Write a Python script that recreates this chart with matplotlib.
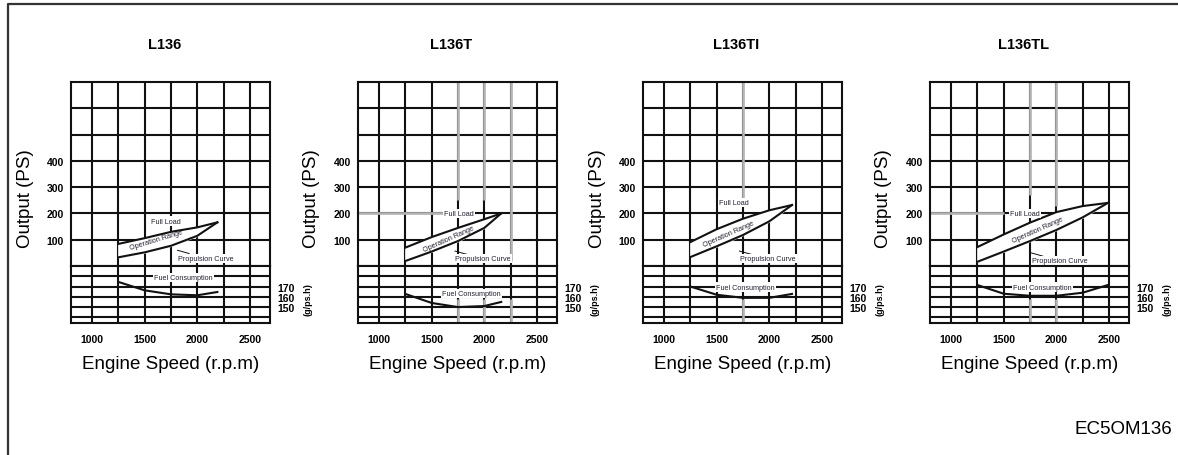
import matplotlib
matplotlib.use("Agg")
import matplotlib.pyplot as plt
from matplotlib.lines import Line2D

W, H = 1178, 456

titles = ["L136", "L136T", "L136TI", "L136TL"]

# output (PS) along full load and propulsion curves, fuel consumption (g/ps.h)
l136_rpm = [1250, 1500, 1750, 2000, 2190]
l136_full = [84, 106, 130, 147, 166]
l136_prop = [33, 52, 77, 115, 166]
l136_fuel = [174.5, 166.3, 162.4, 161.5, 164.7]

l136t_rpm = [1250, 1500, 1750, 2000, 2160]
l136t_full = [70, 110, 145, 178, 200]
l136t_prop = [19, 55, 95, 145, 200]
l136t_fuel = [162.8, 154, 150, 151, 155]

l136ti_rpm = [1250, 1500, 1750, 2000, 2215]
l136ti_full = [91, 140, 180, 212, 232]
l136ti_prop = [34, 75, 118, 170, 232]
l136ti_fuel = [170, 162, 159, 159, 162.8]

l136tl_rpm = [1250, 1500, 1750, 2000, 2250, 2490]
l136tl_full = [72, 120, 165, 205, 228, 240]
l136tl_prop = [16, 55, 95, 137, 185, 240]
l136tl_fuel = [171.5, 163, 161, 161, 164, 171.5]

rpms = [l136_rpm, l136t_rpm, l136ti_rpm, l136tl_rpm]
fulls = [l136_full, l136t_full, l136ti_full, l136tl_full]
props = [l136_prop, l136t_prop, l136ti_prop, l136tl_prop]
fuels = [l136_fuel, l136t_fuel, l136ti_fuel, l136tl_fuel]

x_ticks = [1000, 1500, 2000, 2500]
out_ticks = [100, 200, 300, 400]
fuel_ticks = [170, 160, 150]

# label anchor points: (rpm, value, angle)
full_lbl = [(1700, 171), (1760, 201), (1660, 240), (1700, 200)]
range_lbl = [(1606, 99, 17), (1665, 106, 24), (1615, 125, 24), (1820, 140, 24)]
prop_lbl = [(2080, 30), (1990, 27), (1985, 27), (2030, 20)]
fuel_lbl = [(1870, 179), (1880, 163), (1770, 169.5), (1870, 169.5)]

# greyed grid segments per panel: (rpm, from PS)
grey_v = [[], [(1750, 250), (2000, 250), (2250, 20)], [(1750, 258)],
          [(1750, 270), (2000, 230)]]
grey_h = [None, 1700, None, 1500]

lefts = [71, 358, 643, 930]

plt.rcParams['font.family'] = ['Liberation Sans', 'DejaVu Sans']

fig = plt.figure(figsize=(W / 100, H / 100), dpi=100)


def box(left, top, width, height):
    return [left / W, 1 - (top + height) / H, width / W, height / H]


lw = 1.5
ink = '#111111'
small = dict(fontsize=5.2, color='#222233', ha='center', va='center')
white = dict(boxstyle='square,pad=0.15', fc='white', ec='none')

for i in range(4):
    L = lefts[i]
    up = fig.add_axes(box(L, 83, 199, 184))
    lo = fig.add_axes(box(L, 267, 199, 57), sharex=up)

    up.set_ylim(0, 700)
    lo.set_ylim(134.5, 190)
    up.set_xlim(800, 2690)

    for ax in (up, lo):
        ax.set_xticks(x_ticks)
        ax.set_xticks([1250, 1750, 2250], minor=True)
        ax.grid(which='both', color=ink, lw=lw)
        ax.set_axisbelow(True)
        ax.tick_params(which='both', length=0)
        for s in ax.spines.values():
            s.set_linewidth(lw)
            s.set_color(ink)

    up.set_yticks(out_ticks)
    up.set_yticks([500, 600], minor=True)
    up.tick_params(axis='x', labelbottom=False)
    up.tick_params(axis='y', pad=5)
    for t in up.get_yticklabels():
        t.set_fontsize(7.5)
        t.set_fontweight('bold')

    lo.set_yticks(fuel_ticks)
    lo.set_yticks([140, 180], minor=True)
    lo.yaxis.tick_right()
    lo.tick_params(axis='y', pad=5)
    lo.tick_params(axis='x', pad=8)
    for t in lo.get_yticklabels() + lo.get_xticklabels():
        t.set_fontsize(7.5)
        t.set_fontweight('bold')

    r = rpms[i]
    # operating range between propulsion curve and full load curve
    up.fill_between(r, props[i], fulls[i], color='white', zorder=1)
    up.plot(r, fulls[i], color=ink, lw=1.5, zorder=3)
    up.plot(r, props[i], color=ink, lw=1.5, zorder=3)
    lo.plot(r, fuels[i], color=ink, lw=1.5, zorder=3)

    for gx, gy in grey_v[i]:
        up.vlines(gx, gy, 700, color='#b4b4b4', lw=1.9, zorder=1.5)
        lo.vlines(gx, 134.5, 158, color='#b4b4b4', lw=1.9, zorder=1.5)
    if grey_h[i]:
        up.hlines(200, 800, grey_h[i], color='#b4b4b4', lw=1.9, zorder=1.5)

    up.text(full_lbl[i][0], full_lbl[i][1], 'Full Load', bbox=white, zorder=4, **small)
    rx, ry, ang = range_lbl[i]
    up.text(rx, ry, 'Operation Range', rotation=ang, zorder=4, **small)
    px, py = prop_lbl[i]
    up.annotate('Propulsion Curve', xy=(px - 270, py + 30), xytext=(px, py),
                arrowprops=dict(arrowstyle='-', lw=0.7, color=ink,
                                shrinkA=0, shrinkB=0),
                bbox=white, zorder=4, **small)
    fx, fy = fuel_lbl[i]
    lo.text(fx, fy, 'Fuel Consumption', bbox=white, zorder=4, **small)

    cx = (L + 99.5) / W
    fig.text(cx - 6 / W, 1 - 45 / H, titles[i], fontsize=10.5, fontweight='bold',
             ha='center', va='center')
    fig.text(cx, 1 - 365 / H, 'Engine Speed (r.p.m)', fontsize=13.5,
             ha='center', va='center')
    fig.text((L - 46) / W, 1 - 199 / H, 'Output (PS)', fontsize=13.5,
             rotation=90, ha='center', va='center')
    fig.text((L + 237) / W, 1 - 300 / H, '(g/ps.h)', fontsize=6.5,
             fontweight='bold', rotation=90, ha='center', va='center')

fig.text(1172 / W, 1 - 430 / H, 'EC5OM136', fontsize=13.5, ha='right', va='center')

# outer frame of the page
fig.add_artist(Line2D([8 / W, 8 / W, 1.0], [0.0, 1 - 5 / H, 1 - 5 / H],
                      color='#333333', lw=1.6))

fig.savefig('out.png', dpi=100)
